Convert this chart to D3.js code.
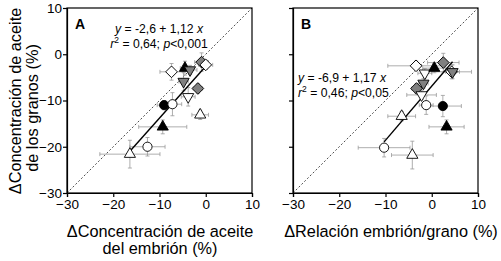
<!DOCTYPE html>
<html>
<head>
<meta charset="utf-8">
<script src="https://cdn.jsdelivr.net/npm/d3@7"></script>
<style>
  body { margin: 0; background: #fff; }
  svg { display: block; font-family: "Liberation Sans", Arial, sans-serif; }
</style>
</head>
<body>
<div id="chart"></div>
<script>
// Panel A: embryo oil concentration vs grain oil concentration
const aX     = [-7.4, -4.5, -3.4, -0.9,  0.0, -4.8, -1.7, -3.8, -9.0, -7.2, -1.2, -9.3, -12.6, -16.4];
const aY     = [-3.8, -3.0, -3.4, -1.7, -2.3, -5.9, -7.4, -9.2, -11.0, -10.8, -13.1, -15.7, -20.0, -21.6];
const aXErr  = [ 2.5,  1.0,  1.5,  1.5,  1.5,  1.0,  1.0,  1.5,  1.5,  2.0,  1.8,  5.2,  3.8,  6.5];
const aYErr  = [ 1.8,  1.5,  1.0,  2.0,  1.0,  2.0,  1.0,  2.0,  1.0,  2.5,  1.0,  1.5,  2.0,  3.0];
const aShape = ["diamondOpen", "triUpBlack", "triDownGray", "diamondGray", "diamondOpen", "triDownGray",
                "diamondGray", "triDownOpen", "circleBlack", "circleOpen", "triUpOpen", "triUpBlack",
                "circleOpen", "triUpOpen"];

// Panel B: embryo/grain ratio vs grain oil concentration
const bX     = [-3.4, -1.5, 0.55, 2.5, 4.3, 4.5, -1.8, -3.3, -2.2, -1.2, 2.4, -6.5, 3.2, -10.3, -4.2];
const bY     = [-2.5, -4.1, -3.0, -1.8, -3.8, -3.8, -6.3, -7.4, -8.8, -11.0, -11.2, -13.4, -15.7, -20.2, -21.8];
const bXErr  = [ 6.1,  1.5,  2.5,  3.4,  4.3,  1.5,  1.0,  1.0,  3.2,  1.5,  4.0,  3.0,  3.8,  5.6,  4.5];
const bYErr  = [ 1.0,  1.0,  1.0,  2.0,  1.5,  1.5,  1.0,  1.0,  1.0,  2.0,  2.3,  1.0,  1.5,  2.0,  3.0];
const bShape = ["diamondOpen", "triDownOpen", "triUpBlack", "diamondGray", "diamondOpen", "triDownGray",
                "triDownGray", "diamondGray", "triDownOpen", "circleOpen", "circleBlack", "triUpOpen",
                "triUpBlack", "circleOpen", "triUpOpen"];

// Regression fits
const aFit = { a: -2.6, b: 1.12 };
const bFit = { a: -6.9, b: 1.17 };

const ticks = [-30, -20, -10, 0, 10];

const width = 501, height = 261;
const plotTop = 8, plotBottom = 193;

const svg = d3.select("#chart").append("svg")
  .attr("width", width)
  .attr("height", height);

const y = d3.scaleLinear().domain([-30, 10]).range([plotBottom, plotTop]);

const shapeStyle = {
  diamondOpen: { sym: d3.symbolSquare, size: 68, rot: 45, fill: "#fff" },
  diamondGray: { sym: d3.symbolSquare, size: 68, rot: 45, fill: "#808080" },
  triDownGray: { sym: d3.symbolTriangle, size: 54, rot: 180, fill: "#808080" },
  triDownOpen: { sym: d3.symbolTriangle, size: 54, rot: 180, fill: "#fff" },
  triUpBlack:  { sym: d3.symbolTriangle, size: 54, rot: 0, fill: "#000" },
  triUpOpen:   { sym: d3.symbolTriangle, size: 54, rot: 0, fill: "#fff" },
  circleBlack: { sym: d3.symbolCircle, size: 66, rot: 0, fill: "#000" },
  circleOpen:  { sym: d3.symbolCircle, size: 66, rot: 0, fill: "#fff" }
};

function panel(left, right, xs, ys, xe, ye, shapes, fit, showYLabels) {
  const x = d3.scaleLinear().domain([-30, 10]).range([left, right]);
  const g = svg.append("g");

  // box
  g.append("rect")
    .attr("x", left).attr("y", plotTop)
    .attr("width", right - left).attr("height", plotBottom - plotTop)
    .attr("fill", "none").attr("stroke", "#000").attr("stroke-width", 1.2);

  // 1:1 line
  g.append("line")
    .attr("x1", x(-30)).attr("y1", y(-30))
    .attr("x2", x(10)).attr("y2", y(10))
    .attr("stroke", "#000").attr("stroke-width", 0.7)
    .attr("stroke-dasharray", "2,2");

  // axes
  const xAxis = g.append("g")
    .attr("transform", `translate(0,${plotBottom})`)
    .call(d3.axisBottom(x).tickValues(ticks).tickSize(4).tickPadding(2));
  const yAxis = g.append("g")
    .attr("transform", `translate(${left},0)`)
    .call(d3.axisLeft(y).tickValues(ticks).tickSize(4).tickPadding(1)
      .tickFormat(showYLabels ? d3.format("d") : ""));
  [xAxis, yAxis].forEach(ax => {
    ax.select(".domain").attr("stroke-width", 1.2);
    ax.selectAll(".tick line").attr("stroke-width", 1.2);
    ax.selectAll("text")
      .attr("font-size", 13.5)
      .attr("font-family", "Liberation Sans, Arial, sans-serif")
      .attr("fill", "#000");
  });

  const pts = xs.map((v, i) => ({ x: v, y: ys[i], xe: xe[i], ye: ye[i], shape: shapes[i] }));

  // error bars
  const eb = g.append("g").attr("stroke", "#999").attr("stroke-width", 0.8);
  pts.forEach(d => {
    eb.append("line").attr("x1", x(d.x - d.xe)).attr("x2", x(d.x + d.xe))
      .attr("y1", y(d.y)).attr("y2", y(d.y));
    eb.append("line").attr("x1", x(d.x - d.xe)).attr("x2", x(d.x - d.xe))
      .attr("y1", y(d.y) - 2).attr("y2", y(d.y) + 2);
    eb.append("line").attr("x1", x(d.x + d.xe)).attr("x2", x(d.x + d.xe))
      .attr("y1", y(d.y) - 2).attr("y2", y(d.y) + 2);
    eb.append("line").attr("x1", x(d.x)).attr("x2", x(d.x))
      .attr("y1", y(d.y - d.ye)).attr("y2", y(d.y + d.ye));
    eb.append("line").attr("x1", x(d.x) - 2).attr("x2", x(d.x) + 2)
      .attr("y1", y(d.y - d.ye)).attr("y2", y(d.y - d.ye));
    eb.append("line").attr("x1", x(d.x) - 2).attr("x2", x(d.x) + 2)
      .attr("y1", y(d.y + d.ye)).attr("y2", y(d.y + d.ye));
  });

  // regression line over the range of the data
  const [x0, x1] = d3.extent(xs);
  g.append("line")
    .attr("x1", x(x0)).attr("y1", y(fit.a + fit.b * x0))
    .attr("x2", x(x1)).attr("y2", y(fit.a + fit.b * x1))
    .attr("stroke", "#000").attr("stroke-width", 1.4);

  // markers
  g.append("g").selectAll("path")
    .data(pts)
    .join("path")
    .attr("d", d => d3.symbol(shapeStyle[d.shape].sym, shapeStyle[d.shape].size)())
    .attr("transform", d => `translate(${x(d.x)},${y(d.y)}) rotate(${shapeStyle[d.shape].rot})`)
    .attr("fill", d => shapeStyle[d.shape].fill)
    .attr("stroke", "#000")
    .attr("stroke-width", 0.9);

  return x;
}

panel(67, 252, aX, aY, aXErr, aYErr, aShape, aFit, true);
panel(293, 478, bX, bY, bXErr, bYErr, bShape, bFit, false);

// panel letters
svg.append("text").attr("x", 75).attr("y", 29).attr("font-size", 14).attr("font-weight", "bold").text("A");
svg.append("text").attr("x", 301).attr("y", 29).attr("font-size", 14).attr("font-weight", "bold").text("B");

// equations
function eq(xPos, yPos, anchor, fit, r2, p) {
  const t1 = svg.append("text").attr("x", xPos).attr("y", yPos)
    .attr("font-size", 12.2).attr("text-anchor", anchor);
  t1.append("tspan").attr("font-style", "italic").text("y");
  t1.append("tspan").text(` = ${String(fit.a).replace(".", ",")} + ${String(fit.b).replace(".", ",")} `);
  t1.append("tspan").attr("font-style", "italic").text("x");
  const t2 = svg.append("text").attr("x", xPos).attr("y", yPos + 14.5)
    .attr("font-size", 12.2).attr("text-anchor", anchor);
  t2.append("tspan").attr("font-style", "italic").text("r");
  t2.append("tspan").attr("font-size", 8.5).attr("dy", -5).text("2");
  t2.append("tspan").attr("dy", 5).text(` = ${r2}; `);
  t2.append("tspan").attr("font-style", "italic").text("p");
  t2.append("tspan").text(p);
}
eq(159, 33, "middle", aFit, "0,64", "<0,001");
eq(298, 82, "start", bFit, "0,46", "<0,05");

// axis titles
svg.append("text")
  .attr("transform", "translate(20.5,101) rotate(-90)")
  .attr("text-anchor", "middle").attr("font-size", 16.3)
  .text("ΔConcentración de aceite");
svg.append("text")
  .attr("transform", "translate(38,108) rotate(-90)")
  .attr("text-anchor", "middle").attr("font-size", 16.3)
  .text("de los granos (%)");

const xtA = svg.append("text").attr("text-anchor", "middle").attr("font-size", 16.3);
xtA.append("tspan").attr("x", 160).attr("y", 237).text("ΔConcentración de aceite");
xtA.append("tspan").attr("x", 160).attr("y", 254).text("del embrión (%)");

svg.append("text").attr("x", 391).attr("y", 237)
  .attr("text-anchor", "middle").attr("font-size", 16.3)
  .text("ΔRelación embrión/grano (%)");
</script>
</body>
</html>
